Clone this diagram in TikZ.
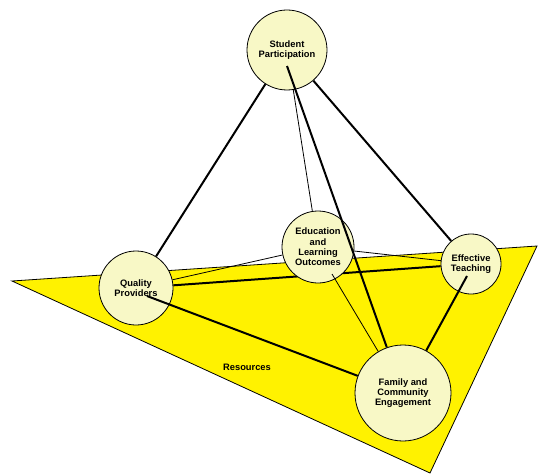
\documentclass[tikz,border=0pt]{standalone}
\usepackage{fontspec}
\setmainfont{Liberation Sans}
\definecolor{circulo}{RGB}{248,248,198}
\pgfdeclarelayer{fondo}
\pgfdeclarelayer{lineas}
\pgfsetlayers{fondo,lineas,main}
\begin{document}
\begin{tikzpicture}[x=0.75pt,y=-0.75pt,
    nodo/.style={circle,draw,fill=circulo,line width=0.6pt,inner sep=0pt,align=center,
      font=\fontsize{7}{7.7}\selectfont\bfseries},
    grueso/.style={line width=1.5pt},
    fino/.style={line width=0.6pt}]
  \useasboundingbox (0,0) rectangle (542,474);

  \node[nodo,minimum size=60pt] (sp) at (287,50) {Student\\Participation};
  \node[nodo,minimum size=54pt] (elo) at (318,247) {Education\\and\\Learning\\Outcomes};
  \node[nodo,minimum size=55.5pt] (qp) at (136,288) {Quality\\Providers};
  \node[nodo,minimum size=45pt] (et) at (471,264) {Effective\\Teaching};
  \node[nodo,minimum size=72pt] (fce) at (403,393) {Family and\\Community\\Engagement};
  \node[font=\fontsize{7}{7.7}\selectfont\bfseries] (res) at (247,367) {Resources};

  % triangulo de recursos
  \begin{pgfonlayer}{fondo}
    \draw[fill=yellow,line width=0.6pt] (12,281) -- (537,246) -- (430,473) -- cycle;
  \end{pgfonlayer}

  % lineas entre circulos
  \begin{pgfonlayer}{lineas}
    \draw[grueso] (sp) -- (qp);
    \draw[grueso] (sp) -- (et);
    \draw[grueso] (qp) -- (et);
    \draw[fino] (sp) -- (elo);
    \draw[fino] (qp) -- (elo);
    \draw[fino] (elo) -- (et);
  \end{pgfonlayer}

  % lineas hacia la familia
  \coordinate (sp-in) at (287,66);
  \coordinate (qp-in) at (147,296);
  \coordinate (et-in) at (467,276);
  \coordinate (elo-in) at (332,274);
  \draw[grueso] (sp-in) -- (fce);
  \draw[grueso] (qp-in) -- (fce);
  \draw[grueso] (et-in) -- (fce);
  \draw[fino] (elo-in) -- (fce);
\end{tikzpicture}
\end{document}
